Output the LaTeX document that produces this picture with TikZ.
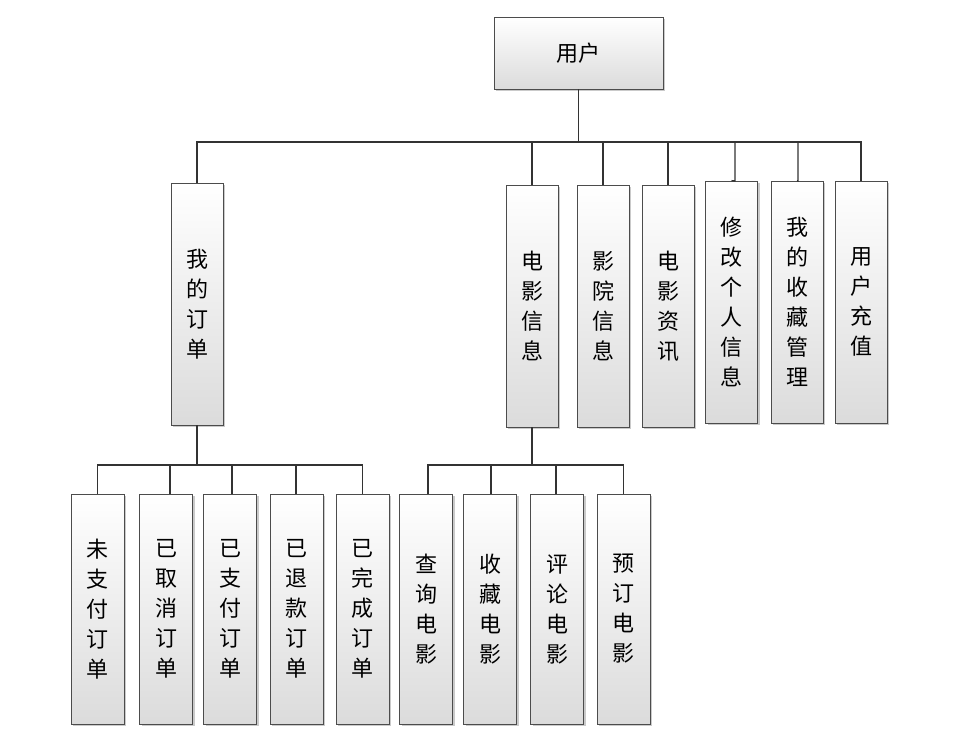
\documentclass[tikz,border=0pt]{standalone}
\usepackage{fontspec}
\newfontfamily\cjk{Noto Sans CJK SC}
\usetikzlibrary{shadows}
\begin{document}
\begin{tikzpicture}[x=1pt,y=-1pt,
  bx/.style={draw=black!70,line width=0.8pt,top color=white,bottom color=black!14,
    drop shadow={shadow xshift=2pt,shadow yshift=-2pt,fill=black!35,opacity=0.6},
    align=center,inner sep=0pt,font=\cjk\fontsize{22}{30}\selectfont},
  ln/.style={draw=black!80,line width=1.3pt}]
\useasboundingbox (0,0) rectangle (969,734);
\node[bx,minimum width=169pt,minimum height=72pt] (u) at (578.5,53) {用户};
% level 2
\tikzset{l2/.style={bx,minimum width=52pt,minimum height=242pt}}
\node[l2] (a) at (197,304) {我\\的\\订\\单};
\node[l2] (b) at (532,306) {电\\影\\信\\息};
\node[l2] (c) at (603,306) {影\\院\\信\\息};
\node[l2] (d) at (668,306) {电\\影\\资\\讯};
\node[l2] (e) at (731.5,302) {修\\改\\个\\人\\信\\息};
\node[l2] (f) at (797,302) {我\\的\\收\\藏\\管\\理};
\node[l2] (g) at (861,302) {用\\户\\充\\值};
% level 3
\tikzset{l3/.style={bx,minimum width=53pt,minimum height=230pt}}
\node[l3] (a1) at (97.5,609) {未\\支\\付\\订\\单};
\node[l3] (a2) at (166,609) {已\\取\\消\\订\\单};
\node[l3] (a3) at (230,609) {已\\支\\付\\订\\单};
\node[l3] (a4) at (296.5,609) {已\\退\\款\\订\\单};
\node[l3] (a5) at (362.5,609) {已\\完\\成\\订\\单};
\node[l3] (b1) at (426,609) {查\\询\\电\\影};
\node[l3] (b2) at (490,609) {收\\藏\\电\\影};
\node[l3] (b3) at (557,609) {评\\论\\电\\影};
\node[l3] (b4) at (623.5,609) {预\\订\\电\\影};
% connectors
\coordinate (j1) at (578.5,142);
\draw[ln] (u.south) -- (j1);
\draw[ln] (a.north) |- (j1) -| (g.north);
\foreach \n/\x in {b/532,c/603,d/668,e/735,f/798}{\draw[ln] (\x,142) -- (\x,181) -- (\n.north);}
\coordinate (j2) at (197,465);
\draw[ln] (a.south) -- (j2);
\draw[ln] (a1.north) |- (j2) -| (a5.north);
\foreach \n/\x in {a2/170,a3/232,a4/296}{\draw[ln] (\x,465) -- (\x,494);}
\coordinate (j3) at (532,465);
\draw[ln] (b.south) -- (j3);
\draw[ln] (428,494) |- (j3) -| (b4.north);
\foreach \x in {491,556}{\draw[ln] (\x,465) -- (\x,494);}
\end{tikzpicture}
\end{document}
